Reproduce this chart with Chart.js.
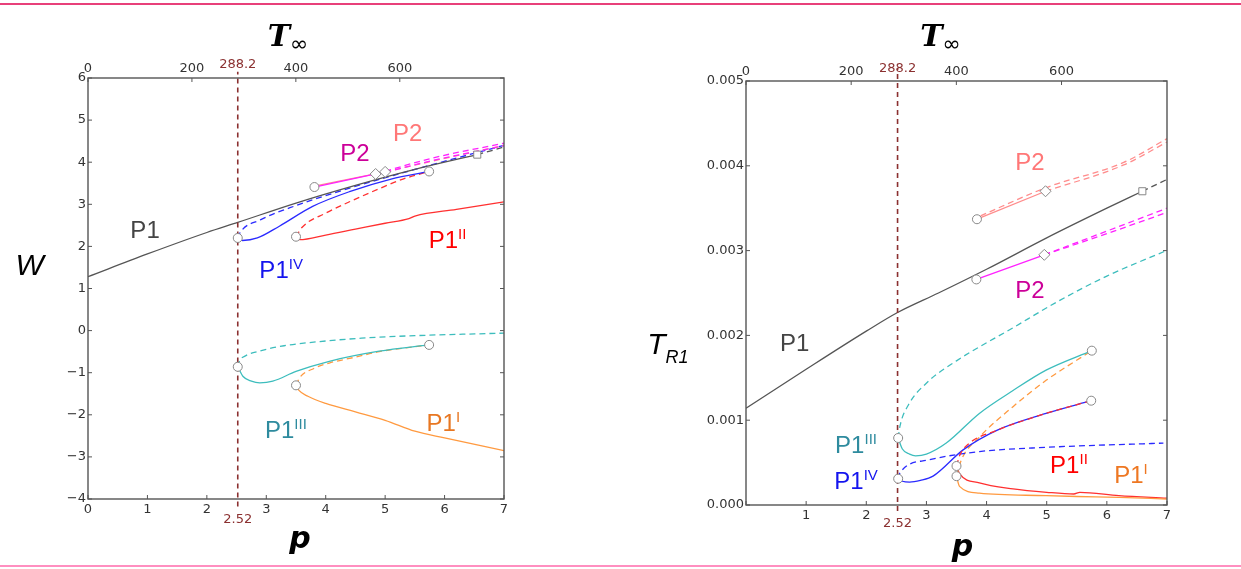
<!DOCTYPE html>
<html>
<head>
<meta charset="utf-8">
<script src="https://cdn.jsdelivr.net/npm/chart.js@4/dist/chart.umd.min.js"></script>
<style>
  html, body { margin: 0; padding: 0; background: #fff; }
  body { width: 1241px; height: 569px; position: relative; overflow: hidden; font-family: "Liberation Sans", Arial, sans-serif; }
  canvas { position: absolute; top: 0; }
  #chartW { left: 0; }
  #chartT { left: 620px; }
  .lbl { position: absolute; transform: translate(-50%, -50%); white-space: nowrap; font-size: 24px; line-height: 1; }
  .lbl sup { font-size: 15px; vertical-align: baseline; position: relative; top: -0.6em; }
  .mark { position: absolute; transform: translate(-50%, -50%); font: 13px "DejaVu Sans", sans-serif; color: #8b3030; }
  .rule { position: absolute; left: 0; width: 1241px; }
  .ttl { position: absolute; transform: translate(-50%, -50%); white-space: nowrap; line-height: 1; color: #000; }
</style>
</head>
<body>
<div class="rule" style="top:3px;height:2px;background:#e8407a"></div>
<div class="rule" style="top:565px;height:2px;background:#ff8fc0"></div>
<canvas id="chartW" width="620" height="569"></canvas>
<canvas id="chartT" width="621" height="569"></canvas>

<script>
// p where T_inf = 288.2
const P_CRIT = 2.52;
const T_CRIT = 288.2;
const P_MAX = 7;
const topTicks = [0, 200, 400, 600];

// ---------- left panel: W vs p ----------
const pW_P1 = [0, 1, 2, 2.52, 3.5, 4.5, 5.5, 6.55];
const W_P1 = [1.28, 1.82, 2.33, 2.57, 3.03, 3.45, 3.83, 4.18];
const pW_P1d = [6.55, 7];
const W_P1d = [4.18, 4.36];

const pW_P2m = [3.81, 4.84];
const W_P2m = [3.41, 3.72];
const pW_P2md = [4.84, 5.8, 7];
const W_P2md = [3.72, 4.1, 4.45];
const W_P2md2 = [3.70, 4.04, 4.39];

const pW_P2s = [3.81, 5.0];
const W_P2s = [3.43, 3.77];
const pW_P2sd = [5.0, 6, 7];
const W_P2sd = [3.77, 4.09, 4.40];

const pW_IV = [2.52, 2.6, 2.85, 3.22, 3.78, 4.4, 5.1, 5.74];
const W_IV = [2.2, 2.14, 2.2, 2.48, 2.95, 3.3, 3.6, 3.78];
const pW_IVd = [2.52, 2.56, 2.9, 3.5, 4.3, 5.2, 6.1, 7];
const W_IVd = [2.2, 2.33, 2.63, 2.97, 3.34, 3.71, 4.06, 4.4];

const pW_II = [3.5, 3.56, 4.0, 4.5, 5.0, 5.4, 5.5, 6.2, 7.0];
const W_II = [2.23, 2.16, 2.27, 2.41, 2.55, 2.66, 2.72, 2.88, 3.06];
const pW_IId = [3.5, 3.6, 4.0, 4.4, 4.9, 5.3, 5.74];
const W_IId = [2.23, 2.45, 2.79, 3.06, 3.37, 3.6, 3.78];

const pW_III = [2.52, 2.61, 2.75, 2.89, 3.11, 3.5, 4.06, 4.9, 5.74];
const W_III = [-0.86, -1.09, -1.2, -1.24, -1.2, -0.97, -0.73, -0.49, -0.34];
const pW_IIId = [2.52, 2.55, 2.65, 2.9, 3.3, 3.9, 4.6, 5.5, 7];
const W_IIId = [-0.86, -0.72, -0.6, -0.48, -0.36, -0.26, -0.18, -0.12, -0.06];

const pW_I = [3.5, 3.55, 3.7, 4.0, 4.5, 5.0, 5.5, 6.0, 7];
const W_I = [-1.3, -1.42, -1.56, -1.73, -1.93, -2.13, -2.39, -2.55, -2.85];
const pW_Id = [3.5, 3.56, 3.8, 4.06, 4.5, 4.9, 5.74];
const W_Id = [-1.3, -1.12, -0.9, -0.77, -0.63, -0.5, -0.34];

const pW_circ = [2.52, 3.5, 3.81, 5.74, 2.52, 3.5, 5.74];
const W_circ = [2.2, 2.23, 3.41, 3.78, -0.86, -1.3, -0.34];
const pW_diam = [4.84, 5.0];
const W_diam = [3.72, 3.77];
const pW_sq = [6.55];
const W_sq = [4.18];

// ---------- right panel: T_R1 vs p ----------
const pT_P1 = [0, 1, 2, 2.52, 3.2, 4, 5, 6, 6.59];
const T_P1 = [0.00114, 0.0016, 0.00205, 0.00227, 0.0025, 0.00278, 0.00315, 0.0035, 0.0037];
const pT_P1d = [6.59, 7];
const T_P1d = [0.0037, 0.00384];

const pT_P2s = [3.84, 4.98];
const T_P2s = [0.00337, 0.0037];
const pT_P2sd = [3.9, 4.98, 6.28, 7];
const T_P2sd = [0.00341, 0.00374, 0.00404, 0.00432];
const pT_P2sd2 = [4.98, 6.28, 7];
const T_P2sd2 = [0.0037, 0.00401, 0.00428];

const pT_P2m = [3.83, 4.96];
const T_P2m = [0.00266, 0.00295];
const pT_P2md = [4.96, 6, 7];
const T_P2md = [0.00295, 0.00323, 0.0035];
const T_P2md2 = [0.00295, 0.0032, 0.00345];

const pT_III = [2.53, 2.6, 2.72, 2.82, 3.0, 3.33, 3.88, 4.44, 4.99, 5.75];
const T_III = [0.00079, 0.00066, 0.0006, 0.00058, 0.0006, 0.00073, 0.00108, 0.00135, 0.00159, 0.00182];
const pT_IIId = [2.53, 2.56, 2.7, 3.02, 3.5, 4.44, 5.16, 6, 6.99];
const T_IIId = [0.00079, 0.00093, 0.00118, 0.00145, 0.0017, 0.00209, 0.00239, 0.0027, 0.003];

const pT_IV = [2.53, 2.6, 2.72, 2.9, 3.11, 3.61, 4.17, 4.99, 5.74];
const T_IV = [0.00031, 0.00028, 0.00027, 0.00029, 0.00034, 0.00065, 0.00088, 0.00108, 0.00123];
const pT_IVd = [2.53, 2.56, 3.02, 3.88, 4.99, 6.94];
const T_IVd = [0.00031, 0.00038, 0.00053, 0.00063, 0.00068, 0.00073];

const pT_II = [3.5, 3.55, 3.88, 4.44, 5.0, 5.45, 5.55, 6.2, 7];
const T_II = [0.00046, 0.00037, 0.00026, 0.00019, 0.00015, 0.00013, 0.00015, 0.00011, 0.00008];
const pT_IId = [3.5, 3.55, 3.7, 4.17, 4.99, 5.74];
const T_IId = [0.00046, 0.00058, 0.00072, 0.00088, 0.00108, 0.00123];

const pT_I = [3.5, 3.55, 3.88, 4.99, 5.5, 6.2, 7];
const T_I = [0.00034, 0.00022, 0.00014, 0.00011, 0.0001, 0.00009, 0.00007];
const pT_Id = [3.5, 3.58, 3.88, 4.44, 4.99, 5.75];
const T_Id = [0.00034, 0.00053, 0.0008, 0.00116, 0.00147, 0.00182];

const pT_circ = [3.84, 3.83, 2.53, 2.53, 3.5, 3.5, 5.75, 5.74];
const T_circ = [0.00337, 0.00266, 0.00079, 0.00031, 0.00046, 0.00034, 0.00182, 0.00123];
const pT_diam = [4.98, 4.96];
const T_diam = [0.0037, 0.00295];
const pT_sq = [6.59];
const T_sq = [0.0037];

// colours
const C = {
  p1: '#555555', mag: '#ff22ff', sal: '#ff8c8c', blue: '#2a2aff',
  red: '#ff3030', cyan: '#3dbdbd', orange: '#ff9a40', brown: '#8b3030'
};

const zip = (xs, ys) => xs.map((x, i) => ({ x, y: ys[i] }));

function curve(xs, ys, color, dashed) {
  return {
    data: zip(xs, ys), borderColor: color, borderWidth: 1.3,
    borderDash: dashed ? [6, 4] : [], pointRadius: 0,
    cubicInterpolationMode: 'monotone', fill: false, order: 5
  };
}

function markers(xs, ys, style, r) {
  return {
    data: zip(xs, ys), showLine: false, pointStyle: style, pointRadius: r,
    pointBackgroundColor: '#fff', pointBorderColor: '#888', pointBorderWidth: 1, order: 1
  };
}

function vline(lo, hi) {
  return {
    data: [{ x: P_CRIT, y: lo }, { x: P_CRIT, y: hi }], borderColor: C.brown,
    borderWidth: 1.6, borderDash: [5, 4], pointRadius: 0, clip: false, order: 2
  };
}

// frame, inward ticks, and html labels placed through the scales
const framePlugin = {
  id: 'frame',
  afterDraw(chart) {
    const { ctx, chartArea: a, scales } = chart;
    ctx.save();
    ctx.strokeStyle = '#555';
    ctx.lineWidth = 1.4;
    ctx.strokeRect(a.left, a.top, a.right - a.left, a.bottom - a.top);
    ctx.lineWidth = 1;
    ctx.beginPath();
    scales.x.ticks.forEach(t => {
      const px = scales.x.getPixelForValue(t.value);
      ctx.moveTo(px, a.bottom); ctx.lineTo(px, a.bottom - 4);
    });
    scales.xTop.ticks.forEach(t => {
      const px = scales.xTop.getPixelForValue(t.value);
      ctx.moveTo(px, a.top); ctx.lineTo(px, a.top + 4);
    });
    scales.y.ticks.forEach(t => {
      const py = scales.y.getPixelForValue(t.value);
      ctx.moveTo(a.left, py); ctx.lineTo(a.left + 4, py);
      ctx.moveTo(a.right, py); ctx.lineTo(a.right - 4, py);
    });
    ctx.stroke();
    ctx.restore();

    const off = chart.canvas.offsetLeft;
    (chart.options.plugins.frame.labels || []).forEach(l => {
      let el = l.el;
      if (!el) {
        el = document.createElement('div');
        el.className = l.cls || 'lbl';
        el.innerHTML = l.html;
        if (l.color) el.style.color = l.color;
        if (l.style) el.style.cssText += l.style;
        document.body.appendChild(el);
        l.el = el;
      }
      const px = l.p !== undefined ? scales.x.getPixelForValue(l.p) : (a.left + a.right) / 2 + (l.dx || 0);
      let py;
      if (l.v !== undefined) py = scales.y.getPixelForValue(l.v);
      else if (l.fromTop !== undefined) py = a.top + l.fromTop;
      else py = a.bottom + l.fromBottom;
      el.style.left = (off + px) + 'px';
      el.style.top = py + 'px';
    });
  }
};

const tickFont = { family: 'DejaVu Sans', size: 13 };
const noGrid = { display: false, drawTicks: false, tickLength: 0 };

function makePanel(id, cfg) {
  const minus = v => (v < 0 ? '\u2212' + (-v) : String(v));
  return new Chart(document.getElementById(id), {
    type: 'line',
    data: { datasets: cfg.datasets },
    options: {
      responsive: false,
      animation: false,
      layout: { padding: { left: 0, top: 0, bottom: 0, right: cfg.padRight } },
      plugins: {
        legend: { display: false },
        tooltip: { enabled: false },
        frame: { labels: cfg.labels }
      },
      scales: {
        x: {
          type: 'linear', position: 'bottom', min: 0, max: P_MAX,
          grid: noGrid, border: { display: false },
          ticks: {
            stepSize: 1, font: tickFont, color: '#333', padding: 3, maxRotation: 0,
            callback: v => (cfg.hideX0 && v === 0 ? '' : String(v))
          },
          afterFit: s => { s.height = cfg.bottomH; }
        },
        xTop: {
          type: 'linear', position: 'top', min: 0, max: P_MAX * T_CRIT / P_CRIT,
          grid: noGrid, border: { display: false },
          afterBuildTicks: s => { s.ticks = topTicks.map(v => ({ value: v })); },
          ticks: { font: tickFont, color: '#333', padding: 2, maxRotation: 0, callback: v => String(v) },
          afterFit: s => { s.height = cfg.topH; }
        },
        y: {
          type: 'linear', position: 'left', min: cfg.yMin, max: cfg.yMax,
          grid: noGrid, border: { display: false },
          ticks: { stepSize: cfg.yStep, font: tickFont, color: '#333', padding: 2, callback: cfg.yFmt || minus },
          afterFit: s => { s.width = cfg.leftW; }
        }
      }
    },
    plugins: [framePlugin]
  });
}

const sup = (base, s) => base + '<sup>' + s + '</sup>';
const tInf = '<span style="font-family:\'DejaVu Serif\';font-weight:bold;font-style:italic;font-size:30px">T</span>' +
  '<span style="font-family:\'DejaVu Sans\';font-size:22px;position:relative;top:5px">\u221e</span>';

makePanel('chartW', {
  padRight: 116, bottomH: 70, topH: 78, leftW: 88,
  yMin: -4, yMax: 6, yStep: 1,
  datasets: [
    markers(pW_circ, W_circ, 'circle', 4.5),
    markers(pW_diam, W_diam, 'rectRot', 5.5),
    markers(pW_sq, W_sq, 'rect', 5),
    vline(-4.18, 6.15),
    curve(pW_P2m, W_P2m, C.mag, false),
    curve(pW_P2md, W_P2md, C.mag, true),
    curve(pW_P2md, W_P2md2, C.mag, true),
    curve(pW_P2s, W_P2s, C.sal, false),
    curve(pW_P2sd, W_P2sd, C.sal, true),
    curve(pW_P1, W_P1, C.p1, false),
    curve(pW_P1d, W_P1d, C.p1, true),
    curve(pW_IV, W_IV, C.blue, false),
    curve(pW_IVd, W_IVd, C.blue, true),
    curve(pW_II, W_II, C.red, false),
    curve(pW_IId, W_IId, C.red, true),
    curve(pW_III, W_III, C.cyan, false),
    curve(pW_IIId, W_IIId, C.cyan, true),
    curve(pW_Id, W_Id, C.orange, true),
    curve(pW_I, W_I, C.orange, false)
  ],
  labels: [
    { html: 'P1', p: 0.96, v: 2.4, color: '#444' },
    { html: 'P2', p: 4.49, v: 4.23, color: '#cc0099' },
    { html: 'P2', p: 5.38, v: 4.7, color: '#ff7777' },
    { html: sup('P1', 'II'), p: 6.05, v: 2.16, color: '#ff0000' },
    { html: sup('P1', 'IV'), p: 3.25, v: 1.45, color: '#1414ee' },
    { html: sup('P1', 'III'), p: 3.33, v: -2.35, color: '#2e8b9e' },
    { html: sup('P1', 'I'), p: 5.98, v: -2.19, color: '#e87722' },
    { html: 'W', p: -0.98, v: 1.57, style: 'font-style:italic;font-size:30px;color:#000' },
    { html: '288.2', cls: 'mark', p: P_CRIT, fromTop: -15 },
    { html: '2.52', cls: 'mark', p: P_CRIT, fromBottom: 19 },
    { html: tInf, cls: 'ttl', dx: -8, fromTop: -42 },
    { html: 'p', cls: 'ttl', dx: 4, fromBottom: 38, style: 'font:bold italic 30px "DejaVu Sans"' }
  ]
});

makePanel('chartT', {
  padRight: 74, bottomH: 64, topH: 81, leftW: 126,
  yMin: 0, yMax: 0.005, yStep: 0.001, hideX0: true,
  yFmt: v => v.toFixed(3),
  datasets: [
    markers(pT_circ, T_circ, 'circle', 4.5),
    markers(pT_diam, T_diam, 'rectRot', 5.5),
    markers(pT_sq, T_sq, 'rect', 5),
    vline(-0.00007, 0.00515),
    curve(pT_P2s, T_P2s, C.sal, false),
    curve(pT_P2sd, T_P2sd, C.sal, true),
    curve(pT_P2sd2, T_P2sd2, C.sal, true),
    curve(pT_P2m, T_P2m, C.mag, false),
    curve(pT_P2md, T_P2md, C.mag, true),
    curve(pT_P2md, T_P2md2, C.mag, true),
    curve(pT_P1, T_P1, C.p1, false),
    curve(pT_P1d, T_P1d, C.p1, true),
    curve(pT_IId, T_IId, C.red, true),
    curve(pT_IV, T_IV, C.blue, false),
    curve(pT_IVd, T_IVd, C.blue, true),
    curve(pT_III, T_III, C.cyan, false),
    curve(pT_IIId, T_IIId, C.cyan, true),
    curve(pT_Id, T_Id, C.orange, true),
    curve(pT_I, T_I, C.orange, false),
    curve(pT_II, T_II, C.red, false)
  ],
  labels: [
    { html: 'P2', p: 4.72, v: 0.00404, color: '#ff7777' },
    { html: 'P2', p: 4.72, v: 0.00253, color: '#cc0099' },
    { html: 'P1', p: 0.81, v: 0.00191, color: '#444' },
    { html: sup('P1', 'III'), p: 1.83, v: 0.00071, color: '#2e8b9e' },
    { html: sup('P1', 'IV'), p: 1.83, v: 0.00028, color: '#1414ee' },
    { html: sup('P1', 'II'), p: 5.37, v: 0.00047, color: '#ff0000' },
    { html: sup('P1', 'I'), p: 6.4, v: 0.00035, color: '#ee7722' },
    { html: '<i>T</i><sub style="font-size:18px;font-style:italic;position:relative;top:2px">R1</sub>',
      p: -1.3, v: 0.00187, style: 'font-size:30px;color:#000' },
    { html: '288.2', cls: 'mark', p: P_CRIT, fromTop: -14 },
    { html: '2.52', cls: 'mark', p: P_CRIT, fromBottom: 17 },
    { html: tInf, cls: 'ttl', dx: -16, fromTop: -45 },
    { html: 'p', cls: 'ttl', dx: 6, fromBottom: 40, style: 'font:bold italic 30px "DejaVu Sans"' }
  ]
});
</script>
</body>
</html>
